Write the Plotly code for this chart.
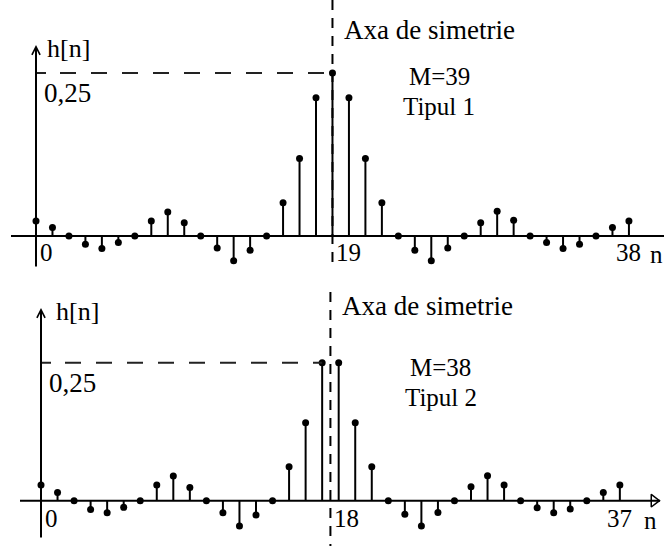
import plotly.graph_objects as go

# ---- data: impulse responses of two linear-phase FIR filters ----
top_k = list(range(37))
top_h = [0.023, 0.013, 0.0, -0.0127, -0.019, -0.010, 0.0, 0.023, 0.037, 0.0205,
         0.0, -0.0184, -0.038, -0.022, 0.0, 0.051, 0.119, 0.212, 0.25, 0.212,
         0.119, 0.051, 0.0, -0.022, -0.038, -0.0184, 0.0, 0.0205, 0.038, 0.024,
         0.0, -0.010, -0.019, -0.0127, 0.0, 0.013, 0.023]
top_tick_pos = [0, 18, 36]
top_tick_text = ["0", "19", "38"]

bot_k = list(range(36))
bot_h = [0.0284, 0.015, 0.0, -0.0158, -0.0217, -0.0121, 0.0, 0.0284, 0.0447, 0.0241,
         0.0, -0.0217, -0.0458, -0.0259, 0.0, 0.0616, 0.1413, 0.25, 0.25, 0.1413,
         0.0616, 0.0, -0.0248, -0.0458, -0.0212, 0.0, 0.0254, 0.0453, 0.0284, 0.0,
         -0.0127, -0.0217, -0.015, 0.0, 0.015, 0.0284]
bot_tick_pos = [0, 17.5, 35]
bot_tick_text = ["0", "18", "37"]

peak_value = 0.25
peak_label = "0,25"

W, H = 665, 546
FONT = "Liberation Serif"
INK = "black"


def stems(k, h):
    xs, ys = [], []
    for a, b in zip(k, h):
        xs += [a, a, None]
        ys += [0, b, None]
    return xs, ys


fig = go.Figure()

panels = [
    dict(k=top_k, h=top_h, xa="x", ya="y", ticks=top_tick_pos, ttext=top_tick_text,
         sym=18, peak_k=18, M="M=39", tip="Tipul 1"),
    dict(k=bot_k, h=bot_h, xa="x2", ya="y2", ticks=bot_tick_pos, ttext=bot_tick_text,
         sym=17.5, peak_k=17, M="M=38", tip="Tipul 2"),
]

for p in panels:
    sx, sy = stems(p["k"], p["h"])
    fig.add_trace(go.Scatter(x=sx, y=sy, mode="lines", xaxis=p["xa"], yaxis=p["ya"],
                             line=dict(color=INK, width=2), hoverinfo="skip"))
    fig.add_trace(go.Scatter(x=p["k"], y=p["h"], mode="markers", xaxis=p["xa"], yaxis=p["ya"],
                             marker=dict(color=INK, size=7, symbol="circle"), hoverinfo="skip"))

# axis ranges chosen so both panels share the page vertically
top_x_range = [-2.186, 38.19]
top_y_range = [-0.4755, 0.362]
bot_x_range = [-2.479, 37.73]
bot_y_range = [-0.0821, 0.907]

hidden = dict(visible=False, fixedrange=True)
fig.update_layout(
    width=W, height=H,
    margin=dict(l=0, r=0, t=0, b=0),
    paper_bgcolor="white", plot_bgcolor="rgba(0,0,0,0)",
    showlegend=False,
    xaxis=dict(range=top_x_range, domain=[0, 1], **hidden),
    yaxis=dict(range=top_y_range, domain=[0, 1], **hidden),
    xaxis2=dict(range=bot_x_range, domain=[0, 1], overlaying="x", anchor="y2", **hidden),
    yaxis2=dict(range=bot_y_range, domain=[0, 1], overlaying="y", anchor="x2", **hidden),
)


def px(x):
    return x / W


def py(y):
    return 1 - y / H


# long dash pattern for the reference level: short first dash, then 16/15
level_dash = ",".join(["10px", "14px"] + ["16px", "15px"] * 12)

shapes = []
ann = []

# panel geometry (page pixels)
geo = [
    dict(base_x0=11, base_x1=664, axis_top=45, axis_bot=268, sym_top=0, sym_bot=268,
         hn_y=48, hn_dx=9, axa_y=30, M_y=77, tip_y=107, lab_y=252, text_x=439,
         n_x=665, n_anchor="right", arrow_x=None),
    dict(base_x0=20, base_x1=660, axis_top=308, axis_bot=539, sym_top=292, sym_bot=546,
         hn_y=311, hn_dx=13, axa_y=306, M_y=367, tip_y=397, lab_y=518, text_x=441,
         n_x=642, n_anchor="left", arrow_x=654),
]

for p, g in zip(panels, geo):
    xa, ya = p["xa"], p["ya"]
    yd = ya + " domain"
    # horizontal axis line
    shapes.append(dict(type="line", xref="paper", yref=ya, x0=px(g["base_x0"]), x1=px(g["base_x1"]),
                       y0=0, y1=0, line=dict(color=INK, width=2)))
    # vertical axis with arrow
    ann.append(dict(xref=xa, yref=yd, axref=xa, ayref=yd, x=0, y=py(g["axis_top"]),
                    ax=0, ay=py(g["axis_bot"]), showarrow=True, arrowhead=5, arrowsize=0.8,
                    arrowwidth=2, arrowcolor=INK, text=""))
    # symmetry axis, dashes starting from the top
    shapes.append(dict(type="line", xref=xa, yref="paper", x0=p["sym"], x1=p["sym"],
                       y0=py(g["sym_top"]), y1=py(g["sym_bot"]),
                       line=dict(color=INK, width=2, dash="10px,8px")))
    # peak reference level
    shapes.append(dict(type="line", xref=xa, yref=ya, x0=0, x1=p["peak_k"],
                       y0=peak_value, y1=peak_value,
                       line=dict(color="#222222", width=2, dash=level_dash)))
    ann.append(dict(xref=xa, yref=ya, x=0, y=peak_value, xanchor="left", yanchor="middle",
                    xshift=6, yshift=-20, text=peak_label, showarrow=False,
                    font=dict(family=FONT, size=27, color=INK)))
    # labels
    ann.append(dict(xref=xa, yref="paper", x=0, y=py(g["hn_y"]), xanchor="left", yanchor="middle",
                    xshift=g["hn_dx"], text="h[n]", showarrow=False,
                    font=dict(family=FONT, size=26, color=INK)))
    ann.append(dict(xref=xa, yref="paper", x=p["sym"], y=py(g["axa_y"]), xanchor="left",
                    yanchor="middle", xshift=10, text="Axa de simetrie", showarrow=False,
                    font=dict(family=FONT, size=27, color=INK)))
    ann.append(dict(xref="paper", yref="paper", x=px(g["text_x"]), y=py(g["M_y"]), xanchor="center",
                    yanchor="middle", text=p["M"], showarrow=False,
                    font=dict(family=FONT, size=25, color=INK)))
    ann.append(dict(xref="paper", yref="paper", x=px(g["text_x"]), y=py(g["tip_y"]), xanchor="center",
                    yanchor="middle", text=p["tip"], showarrow=False,
                    font=dict(family=FONT, size=25, color=INK)))
    # tick labels
    for i, (pos, t) in enumerate(zip(p["ticks"], p["ttext"])):
        last = i == len(p["ticks"]) - 1
        ann.append(dict(xref=xa, yref="paper", x=pos, y=py(g["lab_y"]),
                        xanchor="center" if last else "left", yanchor="middle",
                        xshift=0 if last else 2, text=t, showarrow=False,
                        font=dict(family=FONT, size=25, color=INK)))
    ann.append(dict(xref="paper", yref="paper", x=px(g["n_x"]),
                    y=py(g["lab_y"] + 2), xanchor=g["n_anchor"], yanchor="middle", text="n",
                    showarrow=False, font=dict(family=FONT, size=25, color=INK)))
    if g["arrow_x"] is not None:
        fig.add_trace(go.Scatter(x=[px(g["arrow_x"]) * (bot_x_range[1] - bot_x_range[0]) + bot_x_range[0]],
                                 y=[0], mode="markers", xaxis=xa, yaxis=ya, hoverinfo="skip",
                                 marker=dict(symbol="triangle-right-open", size=11,
                                             color=INK, line=dict(width=1.5, color=INK))))

fig.update_layout(shapes=shapes, annotations=ann)
fig.write_html("out.html")
